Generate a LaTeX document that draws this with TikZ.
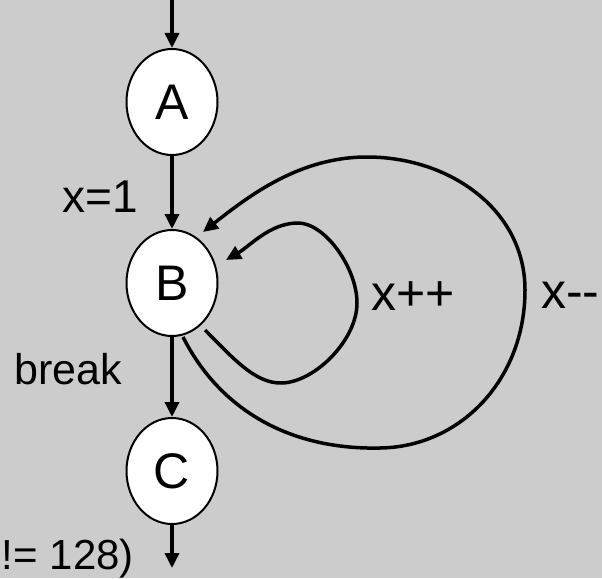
\documentclass[tikz,border=0pt]{standalone}
\usepackage{fontspec}
\setmainfont{Liberation Sans}
\usetikzlibrary{shapes.geometric,arrows.meta}
\definecolor{bg}{RGB}{204,204,204}
\begin{document}
\begin{tikzpicture}[x=1pt,y=-1pt,
  state/.style={ellipse,draw,fill=white,line width=2pt,inner sep=0pt,
    minimum width=91pt,minimum height=106pt,font=\fontsize{50}{50}\selectfont},
  conn/.style={line width=3.5pt,-{Triangle[width=14pt,length=15pt]}},
  curv/.style={line width=3.5pt,-{Triangle[width=14pt,length=15pt]}},
  lbl/.style={inner sep=0pt,font=\fontsize{50}{50}\selectfont},
  lbls/.style={inner sep=0pt,font=\fontsize{46}{46}\selectfont},
  lblt/.style={inner sep=0pt,font=\fontsize{43}{43}\selectfont}]
\fill[bg] (0,0) rectangle (602,578);
\useasboundingbox (0,0) rectangle (602,578);
\node[state] (A) at (172,102) {A};
\node[state] (B) at (172,283) {B};
\node[state] (C) at (172,471) {C};
\coordinate (in) at (172,0);
\coordinate (out) at (172,568);
\draw[conn] (in) -- (A.north);
\draw[conn] (A.south) -- (B.north);
\draw[conn] (B.south) -- (C.north);
\draw[conn] (C.south) -- (out);
\draw[curv] ([shift={(33,47)}]B.center) .. controls (232,357) and (255,384) .. (282,383)
  .. controls (315,382) and (357,340) .. (357,303)
  .. controls (357,268) and (325,223) .. (298,223)
  .. controls (270,223) and (250,246) .. ([shift={(54,-23)}]B.center);
\draw[curv] ([shift={(11,54)}]B.center) .. controls (220,410) and (290,450) .. (380,448)
  .. controls (460,447) and (525,380) .. (525,290)
  .. controls (525,210) and (450,157) .. (367,157)
  .. controls (300,157) and (250,195) .. ([shift={(31,-51)}]B.center);
\node[lbls,anchor=base west] (x1) at (62,212) {x=1};
\node[lblt,anchor=base west] (brk) at (14,384) {break};
\node[lblt,anchor=base east,font=\fontsize{42}{42}\selectfont] (cond) at (134,569) {!= 128)};
\node[lbl,anchor=base west] (xpp) at (371,310) {x++};
\node[lbl,anchor=base west] (xmm) at (541,308) {x-{}-};
\end{tikzpicture}
\end{document}
